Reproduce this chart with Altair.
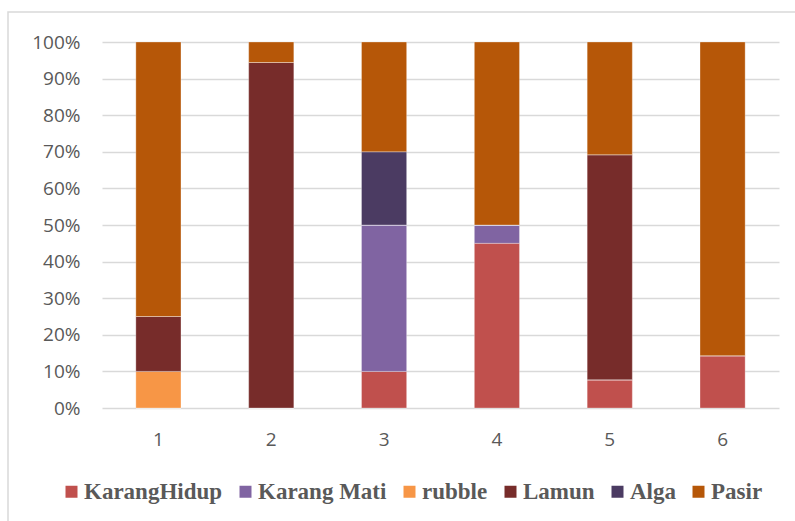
import altair as alt
import pandas as pd

stations = ["1", "2", "3", "4", "5", "6"]
categories = ["KarangHidup", "Karang Mati", "rubble", "Lamun", "Alga", "Pasir"]
colors = ["#C0504D", "#8064A2", "#F79646", "#772C2A", "#4B3B62", "#B65708"]

karang_hidup = [0, 0, 10, 45, 7.7, 14.3]
karang_mati = [0, 0, 40, 5, 0, 0]
rubble = [10, 0, 0, 0, 0, 0]
lamun = [15, 94.4, 0, 0, 61.5, 0]
alga = [0, 0, 20, 0, 0, 0]
pasir = [75, 5.6, 30, 50, 30.8, 85.7]

series = [karang_hidup, karang_mati, rubble, lamun, alga, pasir]
rows = []
for ci, (cat, vals) in enumerate(zip(categories, series)):
    for s, v in zip(stations, vals):
        rows.append({"Stasiun": s, "Kategori": cat, "Nilai": v, "urut": ci})
df = pd.DataFrame(rows)

grey_text = "#595959"
grid = "#D9D9D9"

bars = alt.Chart(df).mark_bar(stroke="white", strokeWidth=0.3).encode(
    x=alt.X("Stasiun:N", sort=stations,
            scale=alt.Scale(paddingInner=0.6, paddingOuter=0.3),
            axis=alt.Axis(title=None, labelAngle=0, labelFont="Open Sans",
                          labelFontSize=19, labelColor=grey_text, ticks=False,
                          domain=False, labelPadding=22)),
    y=alt.Y("Nilai:Q", stack="normalize",
            scale=alt.Scale(domain=[0, 1]),
            axis=alt.Axis(title=None, format="%", values=[i / 10 for i in range(11)],
                          labelFont="Open Sans", labelFontSize=19, labelColor=grey_text,
                          ticks=False, domain=False, gridColor=grid, gridWidth=1.5,
                          labelPadding=22)),
    color=alt.Color("Kategori:N", sort=categories,
                    scale=alt.Scale(domain=categories, range=colors),
                    legend=alt.Legend(title=None, orient="none", direction="horizontal",
                                      legendX=-42, legendY=438,
                                      symbolType="square", symbolSize=144,
                                      symbolStrokeWidth=0, labelFont="Liberation Serif",
                                      labelFontWeight="bold", labelFontSize=23,
                                      labelColor=grey_text, labelOffset=1,
                                      columnPadding=11, labelLimit=300)),
    order=alt.Order("urut:Q", sort="ascending"),
)

frame = alt.Chart(df).mark_rect(fill=None, stroke=grid, strokeWidth=1.5, clip=False).encode(
    x=alt.value(-94), x2=alt.value(720), y=alt.value(-30), y2=alt.value(520)
).transform_filter(alt.datum.urut == 0).transform_filter(alt.datum.Stasiun == "1")

chart = alt.layer(frame, bars).properties(
    width=677, height=366,
    padding={"left": 102, "top": 42, "right": 16, "bottom": 113},
    autosize=alt.AutoSizeParams(type="none"),
    background="white",
).configure_view(stroke=None)

chart.save("out.html", embed_options={"renderer": "svg", "actions": False})
